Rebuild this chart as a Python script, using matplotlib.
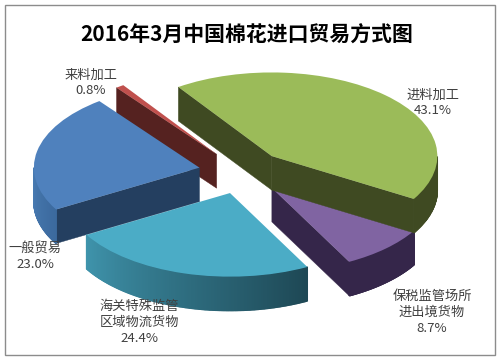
# -*- coding: utf-8 -*-
import numpy as np
import matplotlib
matplotlib.use('Agg')
import matplotlib.pyplot as plt
from matplotlib.colors import to_rgb
from matplotlib.patches import Rectangle

plt.rcParams['font.family'] = ['Noto Sans CJK SC', 'DejaVu Sans']

# clockwise from the lower left, same order as the source chart
names = ['一般贸易', '来料加工', '进料加工', '保税监管场所\n进出境货物', '海关特殊监管\n区域物流货物']
values = [23.0, 0.8, 43.1, 8.7, 24.4]
title = '2016年3月中国棉花进口贸易方式图'

top_colors = ['#4F81BD', '#C0504D', '#9BBB59', '#8064A2', '#4BACC6']
cut_colors = ['#243F60', '#552220', '#3F4A22', '#35264A', '#1F4A58']
rim_left = ['#4A7DB5', '#552220', '#3F4A22', '#35264A', '#3F94AC']
rim_right = ['#3C6A9E', '#552220', '#3F4A22', '#35264A', '#1E4855']
# back to front, purple goes under the green wall
zorders = [2, 1, 4, 3, 3]
label_pos = [(35, 257), (91, 83), (433, 103), (432, 312), (139, 322)]

W, H = 498, 359
rx, ry = 165.6, 83.6   # pie radius on screen, px
cx, cy = 242, 172      # pie centre, px
depth = 34 / ry

fig = plt.figure(figsize=(W / 100, H / 100), dpi=100, facecolor='white')
ax = fig.add_axes([0, 0, 1, 1])
wedges, _ = ax.pie(values, explode=[0.262] * len(values), startangle=210,
                   counterclock=False, wedgeprops={'linewidth': 0})
ax.set_aspect('auto')
ax.set_xlim(-cx / rx, (W - cx) / rx)
ax.set_ylim((cy - H) / ry, cy / ry)
ax.axis('off')


def side_wall(x0, y0, t0, z, color):
    # flat cut face going from the apex out to the rim at angle t0
    x1 = x0 + np.cos(t0)
    y1 = y0 + np.sin(t0)
    ax.fill([x0, x1, x1, x0], [y0, y1, y1 - depth, y0 - depth],
            color=color, lw=0.3, zorder=z)


for i, w in enumerate(wedges):
    x0, y0 = w.center
    t1 = np.radians(w.theta1)
    t2 = np.radians(w.theta2)
    z = zorders[i]
    w.set_facecolor(top_colors[i])
    w.set_zorder(z + 0.5)

    # cut faces, only the ones turned towards the viewer
    if np.sin(t1 - np.pi / 2) < 0:
        side_wall(x0, y0, t1, z, cut_colors[i])
    if np.sin(t2 + np.pi / 2) < 0:
        side_wall(x0, y0, t2, z, cut_colors[i])

    # outer rim, lower half only, cut in thin strips for the shading
    t = np.linspace(t1, t2, 200)
    t = t[np.sin(t) <= 0]
    if len(t) < 2:
        continue
    order = np.argsort(np.cos(t))
    t = t[order]
    c0 = np.array(to_rgb(rim_left[i]))
    c1 = np.array(to_rgb(rim_right[i]))
    for j in range(len(t) - 1):
        f = j / (len(t) - 2) if len(t) > 2 else 0
        xs = x0 + np.cos(t[j:j + 2])
        ys = y0 + np.sin(t[j:j + 2])
        col = c0 + (c1 - c0) * f
        ax.fill([xs[0], xs[1], xs[1], xs[0]],
                [ys[0], ys[1], ys[1] - depth, ys[0] - depth],
                color=col, lw=1.0, zorder=z + 0.1)

# chart border
fig.add_artist(Rectangle((4.5 / W, 1 - 354.5 / H), 490 / W, 350 / H, fill=False,
                         edgecolor='#8C8C8C', lw=1.0, transform=fig.transFigure))

fig.text(247 / W, 1 - 35 / H, title, fontsize=15, fontweight='bold', color='black',
         ha='center', va='center')

for name, v, pos in zip(names, values, label_pos):
    fig.text(pos[0] / W, 1 - pos[1] / H, '%s\n%.1f%%' % (name, v), fontsize=9.5,
             color='#404040', ha='center', va='center', linespacing=1.3, zorder=10)

fig.savefig('out.png', dpi=100, facecolor='white')
